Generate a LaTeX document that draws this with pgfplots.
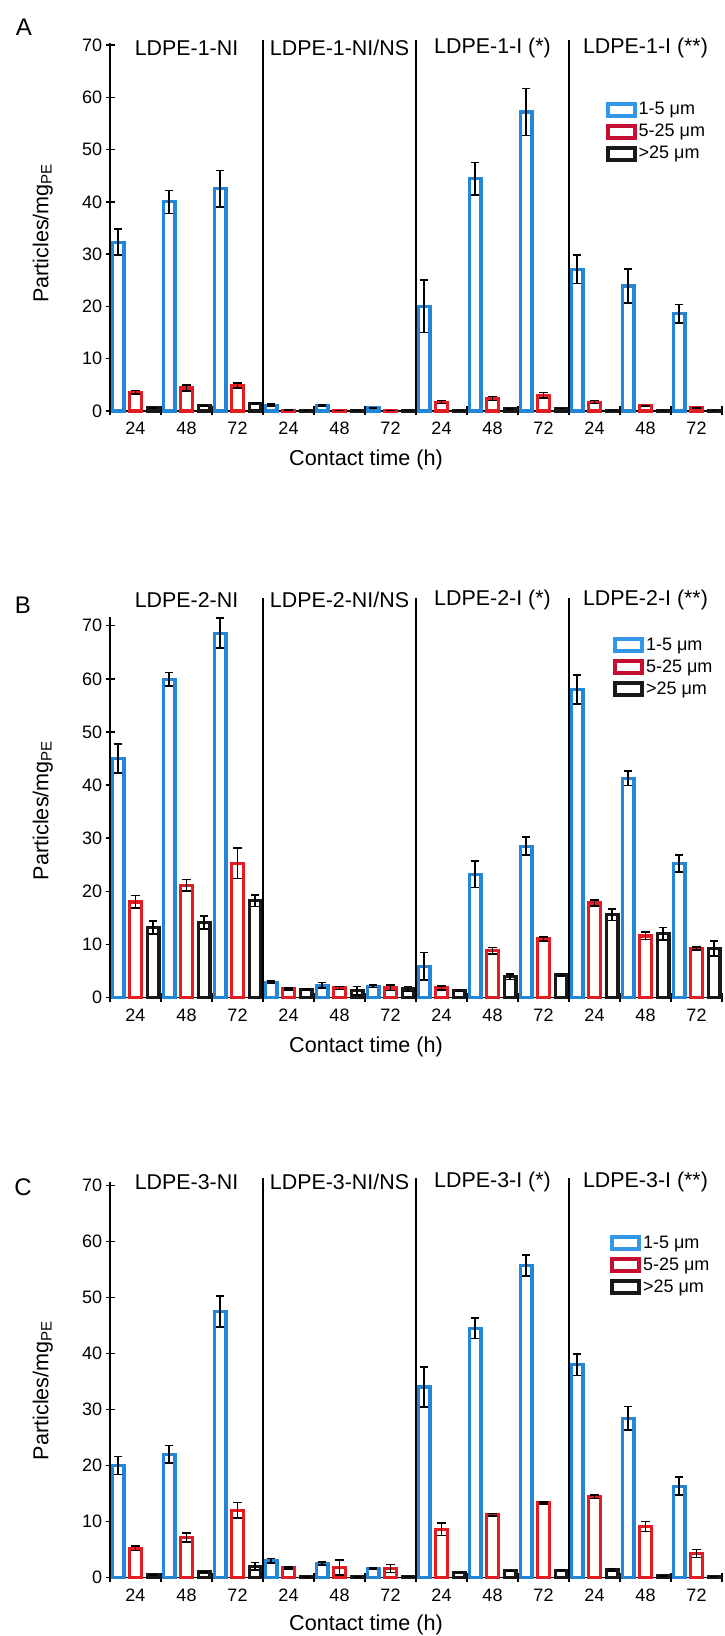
\documentclass[border=0pt]{standalone}
\usepackage{pgfplots}
\pgfplotsset{compat=1.18}
\usepackage{pgfplotstable}
\usepackage{fontspec}
\setmainfont{Liberation Sans}

\definecolor{barblue}{RGB}{36,134,214}
\definecolor{barred}{RGB}{228,28,36}
\definecolor{barblack}{RGB}{25,25,25}
\definecolor{legblue}{RGB}{52,150,230}
\definecolor{legred}{RGB}{198,14,48}

% x = centre of each contact-time slot; b/r/k = 1-5, 5-25, >25 um; *e = error
\pgfplotstableread{
x    b    be   r    re   k    ke
0.5  32.3 2.5  3.6  0.3  0.6  0
1.5  40.0 2.2  4.4  0.6  1.0  0
2.5  42.5 3.5  4.9  0.5  1.5  0
3.5  1.1  0.2  0.15 0    0.1  0
4.5  1.0  0.1  0.1  0    0.1  0
5.5  0.6  0.1  0.1  0    0.1  0
6.5  20.0 5.0  1.7  0.3  0.1  0
7.5  44.4 3.1  2.4  0.4  0.4  0
8.5  57.2 4.5  3.0  0.5  0.5  0
9.5  27.1 2.7  1.7  0.3  0.1  0
10.5 23.9 3.2  1.0  0    0.1  0
11.5 18.6 1.8  0.6  0    0.1  0
}\dataA

\pgfplotstableread{
x    b    be   r    re   k    ke
0.5  45.0 2.7  18.0 1.2  13.2 1.2
1.5  59.9 1.3  21.1 1.1  14.1 1.2
2.5  68.6 2.8  25.3 2.9  18.2 1.1
3.5  2.9  0.2  1.6  0.2  1.5  0.1
4.5  2.3  0.5  1.8  0.3  1.3  0.8
5.5  2.1  0.2  1.8  0.5  1.6  0.5
6.5  5.9  2.6  1.8  0.4  1.3  0.2
7.5  23.2 2.5  8.8  0.6  3.9  0.5
8.5  28.5 1.7  11.0 0.4  4.3  0.2
9.5  58.0 2.7  17.8 0.6  15.6 1.1
10.5 41.3 1.4  11.6 0.7  12.0 1.2
11.5 25.2 1.6  9.2  0.3  9.2  1.4
}\dataB

\pgfplotstableread{
x    b    be   r    re   k    ke
0.5  20.0 1.6  5.2  0.4  0.5  0
1.5  22.0 1.6  7.1  0.8  1.0  0
2.5  47.5 2.8  12.0 1.4  2.0  0.7
3.5  3.0  0.4  1.7  0.15 0.1  0
4.5  2.5  0.3  1.8  1.3  0.1  0
5.5  1.6  0.1  1.6  0.7  0.2  0
6.5  34.0 3.6  8.6  1.1  0.9  0
7.5  44.5 1.8  11.2 0.2  1.2  0
8.5  55.7 1.9  13.3 0.2  1.3  0
9.5  38.0 1.9  14.4 0.3  1.4  0.2
10.5 28.4 2.1  9.1  0.9  0.3  0
11.5 16.3 1.6  4.3  0.7  0.2  0
}\dataC

\pgfplotsset{
  panel/.style={
    scale only axis, width=306pt, anchor=south west,
    xmin=0, xmax=12, ymin=0,
    axis x line*=bottom, axis y line*=left,
    axis line style={line width=0.75pt, black},
    ybar, bar width=5.9pt,
    xtick={0,...,12}, xticklabels={},
    extra x ticks={0.5,1.5,...,11.5},
    extra x tick labels={24,48,72,24,48,72,24,48,72,24,48,72},
    extra x tick style={major tick length=0pt},
    xticklabel style={yshift=-2pt},
    yticklabel style={xshift=1.8pt},
    ytick={0,10,...,70},
    tick align=center, major tick length=4.5pt,
    tick style={line width=0.75pt, black},
    ticklabel style={font=\fontsize{9}{10}\selectfont},
    /pgf/number format/assume math mode=true,
    clip=false,
    error bars/error bar style={line width=0.8pt, black},
    error bars/error mark options={rotate=90, mark size=2.1pt, line width=0.8pt, black},
    legend image code/.code={\draw[#1, line width=2pt, fill=white] (0pt,-3pt) rectangle (13.5pt,3pt);},
    legend style={draw=none, fill=none, inner sep=0pt, anchor=north west,
      font=\fontsize{9}{10}\selectfont, row sep=1.6pt,
      nodes={inner sep=0.8pt}},
    legend cell align=left,
  },
  bars/.style={draw=#1, fill=white, line width=1.6pt, forget plot},
}
\tikzset{
  ttl/.style={font=\fontsize{10.7}{12}\selectfont},
  grpsep/.style={line width=0.6pt, black},
}

\begin{document}
\begin{tikzpicture}
\useasboundingbox (0pt,0pt) rectangle (362pt,-818pt);

% ---------------- A ----------------
\begin{axis}[panel, at={(55pt,-205.5pt)}, height=183.8pt, ymax=70.3,
  legend style={at={(0.81,0.845)}}]
\addplot[bars=barblue, bar shift=-8.75pt, error bars/.cd, y dir=both, y explicit]
  table[x=x, y=b, y error=be]{\dataA};
\addplot[bars=barred, bar shift=0pt, error bars/.cd, y dir=both, y explicit]
  table[x=x, y=r, y error=re]{\dataA};
\addplot[bars=barblack, bar shift=8.75pt, error bars/.cd, y dir=both, y explicit]
  table[x=x, y=k, y error=ke]{\dataA};
\addlegendimage{draw=legblue}\addlegendentry{1-5 μm}
\addlegendimage{draw=legred}\addlegendentry{5-25 μm}
\addlegendimage{draw=barblack}\addlegendentry{>25 μm}
\draw[grpsep] (axis cs:3,0) -- (axis cs:3,70.9);
\draw[grpsep] (axis cs:6,0) -- (axis cs:6,70.9);
\draw[grpsep] (axis cs:9,0) -- (axis cs:9,70.9);
\node[ttl] at (axis cs:1.5,69.4) {LDPE-1-NI};
\node[ttl] at (axis cs:4.5,69.4) {LDPE-1-NI/NS};
\node[ttl] at (axis cs:7.5,69.4) {LDPE-1-I (*)};
\node[ttl] at (axis cs:10.5,69.4) {LDPE-1-I (**)};
\end{axis}

% ---------------- B ----------------
\begin{axis}[panel, at={(55pt,-498.75pt)}, height=190.4pt, ymax=71.7,
  legend style={at={(0.822,0.95)}}]
\addplot[bars=barblue, bar shift=-8.75pt, error bars/.cd, y dir=both, y explicit]
  table[x=x, y=b, y error=be]{\dataB};
\addplot[bars=barred, bar shift=0pt, error bars/.cd, y dir=both, y explicit]
  table[x=x, y=r, y error=re]{\dataB};
\addplot[bars=barblack, bar shift=8.75pt, error bars/.cd, y dir=both, y explicit]
  table[x=x, y=k, y error=ke]{\dataB};
\addlegendimage{draw=legblue}\addlegendentry{1-5 μm}
\addlegendimage{draw=legred}\addlegendentry{5-25 μm}
\addlegendimage{draw=barblack}\addlegendentry{>25 μm}
\draw[grpsep] (axis cs:3,0) -- (axis cs:3,75.2);
\draw[grpsep] (axis cs:6,0) -- (axis cs:6,75.2);
\draw[grpsep] (axis cs:9,0) -- (axis cs:9,75.2);
\node[ttl] at (axis cs:1.5,74.9) {LDPE-2-NI};
\node[ttl] at (axis cs:4.5,74.9) {LDPE-2-NI/NS};
\node[ttl] at (axis cs:7.5,74.9) {LDPE-2-I (*)};
\node[ttl] at (axis cs:10.5,74.9) {LDPE-2-I (**)};
\end{axis}

% ---------------- C ----------------
\begin{axis}[panel, at={(55pt,-788.75pt)}, height=198pt, ymax=70.7,
  legend style={at={(0.817,0.868)}}]
\addplot[bars=barblue, bar shift=-8.75pt, error bars/.cd, y dir=both, y explicit]
  table[x=x, y=b, y error=be]{\dataC};
\addplot[bars=barred, bar shift=0pt, error bars/.cd, y dir=both, y explicit]
  table[x=x, y=r, y error=re]{\dataC};
\addplot[bars=barblack, bar shift=8.75pt, error bars/.cd, y dir=both, y explicit]
  table[x=x, y=k, y error=ke]{\dataC};
\addlegendimage{draw=legblue}\addlegendentry{1-5 μm}
\addlegendimage{draw=legred}\addlegendentry{5-25 μm}
\addlegendimage{draw=barblack}\addlegendentry{>25 μm}
\draw[grpsep] (axis cs:3,0) -- (axis cs:3,71.3);
\draw[grpsep] (axis cs:6,0) -- (axis cs:6,71.3);
\draw[grpsep] (axis cs:9,0) -- (axis cs:9,71.3);
\node[ttl] at (axis cs:1.5,70.6) {LDPE-3-NI};
\node[ttl] at (axis cs:4.5,70.6) {LDPE-3-NI/NS};
\node[ttl] at (axis cs:7.5,70.6) {LDPE-3-I (*)};
\node[ttl] at (axis cs:10.5,70.6) {LDPE-3-I (**)};
\end{axis}

% panel letters, shared axis titles
\node[font=\fontsize{12}{14}\selectfont] at (12pt,-13.5pt) {A};
\node[font=\fontsize{12}{14}\selectfont] at (11.5pt,-302.5pt) {B};
\node[font=\fontsize{12}{14}\selectfont] at (11.5pt,-593.5pt) {C};
\foreach \yl/\yc in {-230/-116.5, -523.2/-405, -812.5/-695} {
  \node[font=\fontsize{10.8}{12}\selectfont] at (183pt,\yl pt) {Contact time (h)};
  \node[font=\fontsize{10.8}{12}\selectfont, rotate=90, anchor=base] at (24.2pt,\yc pt) {Particles/mg\textsubscript{PE}};
}
\end{tikzpicture}
\end{document}
